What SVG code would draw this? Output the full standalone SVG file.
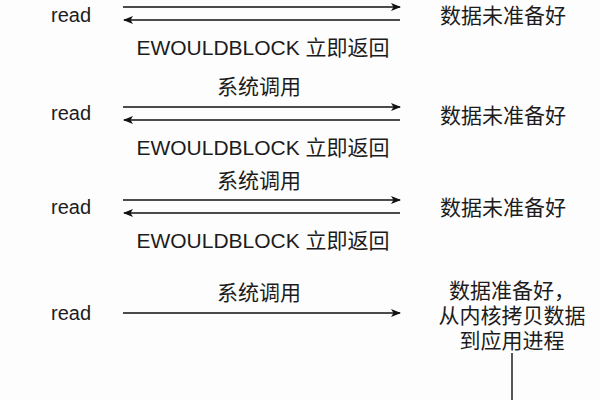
<svg xmlns="http://www.w3.org/2000/svg" width="600" height="400" viewBox="0 0 600 400">
<defs>
<marker id="ah" viewBox="0 0 10 10" refX="9" refY="5" markerWidth="10" markerHeight="10" markerUnits="userSpaceOnUse" orient="auto">
<path d="M0,1 L10,5 L0,9 L2.5,5 Z" fill="#111"/>
</marker>
<style>
text{font-family:"Liberation Sans","Noto Sans CJK SC",sans-serif;font-size:21px;fill:#1c1c1c;dominant-baseline:central;text-anchor:middle}
.r{font-size:20px}
.c line{stroke:#111;stroke-width:1.4;fill:none}
.a{marker-end:url(#ah)}
</style>
</defs>
<rect width="600" height="400" fill="#fdfdfe"/>
<g id="read1"><text x="71" y="15" class="r">read</text></g>
<g id="state1"><text x="503" y="15">数据未准备好</text></g>
<g id="read2"><text x="71" y="113" class="r">read</text></g>
<g id="state2"><text x="503" y="115">数据未准备好</text></g>
<g id="read3"><text x="71" y="207" class="r">read</text></g>
<g id="state3"><text x="503" y="207">数据未准备好</text></g>
<g id="read4"><text x="71" y="313" class="r">read</text></g>
<g id="state4">
<text x="512" y="290">数据准备好，</text>
<text x="512" y="315">从内核拷贝数据</text>
<text x="512" y="340">到应用进程</text>
</g>
<g class="c" id="connectors">
<line class="a" x1="123" y1="7" x2="400" y2="7"/>
<line class="a" x1="400" y1="20" x2="124" y2="20"/>
<line class="a" x1="123" y1="107" x2="400" y2="107"/>
<line class="a" x1="400" y1="120" x2="124" y2="120"/>
<line class="a" x1="123" y1="200" x2="400" y2="200"/>
<line class="a" x1="400" y1="213" x2="124" y2="213"/>
<line class="a" x1="123" y1="313" x2="400" y2="313"/>
<line x1="512" y1="353" x2="512" y2="400"/>
</g>
<g id="labels">
<text x="263" y="47">EWOULDBLOCK 立即返回</text>
<text x="259" y="86">系统调用</text>
<text x="263" y="147">EWOULDBLOCK 立即返回</text>
<text x="259" y="180">系统调用</text>
<text x="263" y="240">EWOULDBLOCK 立即返回</text>
<text x="259" y="292">系统调用</text>
</g>
</svg>
